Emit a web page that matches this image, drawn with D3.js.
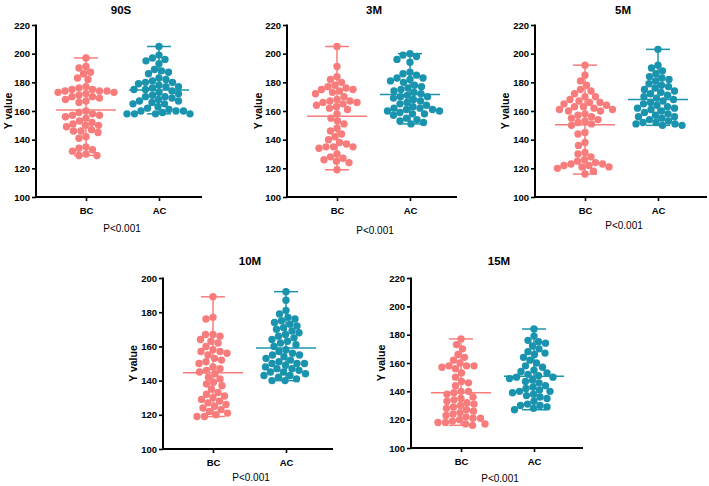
<!DOCTYPE html>
<html><head><meta charset="utf-8">
<script src="https://cdn.jsdelivr.net/npm/d3@7"></script>
<style>body{margin:0;background:#fff}svg{display:block}text{font-family:"Liberation Sans",Arial,sans-serif}</style>
</head><body><svg id="c" width="709" height="486"></svg>
<script>
const categories = ["BC", "AC"];
const panelTitles = ["90S", "3M", "5M", "10M", "15M"];
const pLabels = ["P<0.001", "P<0.001", "P<0.001", "P<0.001", "P<0.001"];
const yDomains = [[100,220],[100,220],[100,220],[100,200],[100,220]];
const yTicks = [[100,120,140,160,180,200,220],[100,120,140,160,180,200,220],[100,120,140,160,180,200,220],[100,120,140,160,180,200],[100,120,140,160,180,200,220]];

const bc90S = [197,191,190,187,186,183,182,177,176,175,175,174,174,174,173,173,172,171,170,170,169,168,167,166,160,159,158,157,157,156,155,153,152,151,150,150,149,147,146,146,145,142,141,135,134,133,132,130,129,129];
const ac90S = [205,199,197,196,195,193,189,188,187,186,183,182,181,180,180,179,178,177,177,176,175,175,174,173,172,171,170,170,169,168,167,167,166,165,165,163,162,161,160,160,160,159,158,158,158,158];
const bc3M = [205,191,184,182,180,178,177,176,175,175,174,173,172,170,168,167,167,166,166,165,164,163,162,161,158,155,153,151,148,146,144,142,140,138,137,135,135,135,134,130,128,127,126,125,124,119];
const ac3M = [200,199,198,196,194,187,186,185,183,183,182,181,180,178,177,176,175,174,173,172,171,170,170,169,168,167,166,165,164,163,162,162,161,161,160,160,159,158,158,157,155,154,153,152,151];
const bc5M = [192,185,181,178,175,174,172,170,170,168,167,166,166,165,164,163,163,162,161,161,160,160,158,157,156,155,154,153,152,151,150,145,144,138,136,131,130,128,126,125,124,123,123,122,122,121,121,120,118,116];
const ac5M = [203,192,190,188,186,184,183,182,181,179,178,177,176,175,174,173,172,171,170,169,168,167,166,165,164,163,162,162,161,160,159,158,157,156,156,155,154,153,152,152,151,151,150,150];
const bc10M = [189,177,176,167,167,166,164,163,162,160,158,157,157,156,155,153,152,151,150,148,147,146,145,144,142,141,139,138,137,135,133,132,131,130,129,128,127,126,125,124,123,122,121,120,119,119];
const ac10M = [192,187,181,179,177,176,175,174,173,172,171,170,169,168,167,166,165,164,163,162,161,160,158,157,156,155,155,154,153,152,151,150,150,150,149,148,147,147,146,145,145,144,143,143,142,141,140,140];
const bc15M = [177,173,170,166,164,162,160,158,158,158,157,156,153,150,147,146,144,140,140,139,138,136,135,134,133,132,131,130,129,128,127,126,125,124,123,122,121,121,120,119,118,118,117,117,116];
const ac15M = [184,179,176,175,174,172,170,168,167,166,164,162,160,158,157,155,154,153,152,151,150,150,149,148,147,146,144,143,142,141,140,140,139,138,137,136,135,133,131,130,130,129,128,127];

const seriesBC = [bc90S, bc3M, bc5M, bc10M, bc15M];
const seriesAC = [ac90S, ac3M, ac5M, ac10M, ac15M];
const colors = {BC: "#F87C7C", AC: "#1A94AE"};

const layout = [
  {ax:36, xe:202, yt:25, yb:197, titleY:14, pY:232, ylX:8},
  {ax:287, xe:457, yt:25, yb:197, titleY:14, pY:234, ylX:258},
  {ax:535, xe:707, yt:25, yb:197, titleY:14, pY:229, ylX:505},
  {ax:163, xe:333, yt:278, yb:449, titleY:265, pY:481, ylX:133},
  {ax:411, xe:583, yt:278, yb:448, titleY:265, pY:482, ylX:381}
];

const svg = d3.select("#c");
const R = 3.7;

function swarm(vals, y, cx) {
  const pts = vals.map(v => ({v, y: y(v)})).sort((a,b) => a.y - b.y);
  const placed = [];
  const D = 2*R*0.95;
  for (const p of pts) {
    let best = 0;
    for (let k = 0; k < 240; k++) {
      const off = (k % 2 === 0 ? 1 : -1) * Math.ceil(k/2) * 0.5;
      let ok = true;
      for (const q of placed) {
        const dy = q.y - p.y;
        if (Math.abs(dy) >= D) continue;
        const dx = q.x - (cx + off);
        if (dx*dx + dy*dy < D*D) { ok = false; break; }
      }
      if (ok) { best = off; break; }
    }
    p.x = cx + best;
    placed.push(p);
  }
  return placed;
}

layout.forEach((L, i) => {
  const g = svg.append("g");
  const y = d3.scaleLinear().domain(yDomains[i]).range([L.yb, L.yt]);
  const x = d3.scalePoint().domain(categories).range([L.ax + 50, L.ax + 123]);

  g.append("text").attr("x", (L.ax + L.xe)/2 + 2).attr("y", L.titleY)
    .attr("text-anchor","middle").attr("font-weight","bold").attr("font-size", 11.5).text(panelTitles[i]);

  [["BC", seriesBC[i]], ["AC", seriesAC[i]]].forEach(([cat, vals]) => {
    const cx = x(cat), col = colors[cat];
    const pts = swarm(vals, y, cx);
    g.append("g").selectAll("circle").data(pts).join("circle")
      .attr("cx", d => d.x).attr("cy", d => d.y).attr("r", R).attr("fill", col);
    const mn = d3.min(vals), mx = d3.max(vals), mean = d3.mean(vals);
    const lg = g.append("g").attr("stroke", col).attr("stroke-width", 1.5).attr("fill","none");
    lg.append("line").attr("x1", cx).attr("x2", cx).attr("y1", y(mn)).attr("y2", y(mx));
    lg.append("line").attr("x1", cx-12).attr("x2", cx+12).attr("y1", y(mn)).attr("y2", y(mn));
    lg.append("line").attr("x1", cx-12).attr("x2", cx+12).attr("y1", y(mx)).attr("y2", y(mx));
    lg.append("line").attr("x1", cx-30).attr("x2", cx+30).attr("y1", y(mean)).attr("y2", y(mean));
  });

  const ya = g.append("g").attr("transform", `translate(${L.ax},0)`)
    .call(d3.axisLeft(y).tickValues(yTicks[i]).tickSize(4).tickSizeOuter(0).tickPadding(2));
  ya.select(".domain").attr("stroke","#000").attr("stroke-width",2).attr("d", `M0,${L.yt-0.5}V${L.yb+1}`);
  ya.selectAll(".tick line").attr("stroke","#000").attr("stroke-width",1.6);
  ya.selectAll(".tick text").attr("font-size", 9.5).attr("font-weight","bold").attr("fill","#000")
    .attr("font-family","Liberation Sans, Arial, sans-serif");

  const xa = g.append("g").attr("transform", `translate(0,${L.yb})`)
    .call(d3.axisBottom(x).tickSize(4).tickSizeOuter(0).tickPadding(6));
  xa.select(".domain").attr("stroke","#000").attr("stroke-width",2).attr("d", `M${L.ax},0H${L.xe}`);
  xa.selectAll(".tick line").attr("stroke","#000").attr("stroke-width",1.6);
  xa.selectAll(".tick text").attr("font-size", 9.5).attr("font-weight","bold").attr("fill","#000")
    .attr("font-family","Liberation Sans, Arial, sans-serif");

  g.append("text").attr("transform", `translate(${L.ylX},${(L.yt+L.yb)/2}) rotate(-90)`)
    .attr("text-anchor","middle").attr("dy","0.35em").attr("font-weight","bold").attr("font-size", 10.5).text("Y value");

  g.append("text").attr("x", (L.ax + L.xe)/2 + 3).attr("y", L.pY)
    .attr("text-anchor","middle").attr("font-size", 10).text(pLabels[i]);
});
</script></body></html>
